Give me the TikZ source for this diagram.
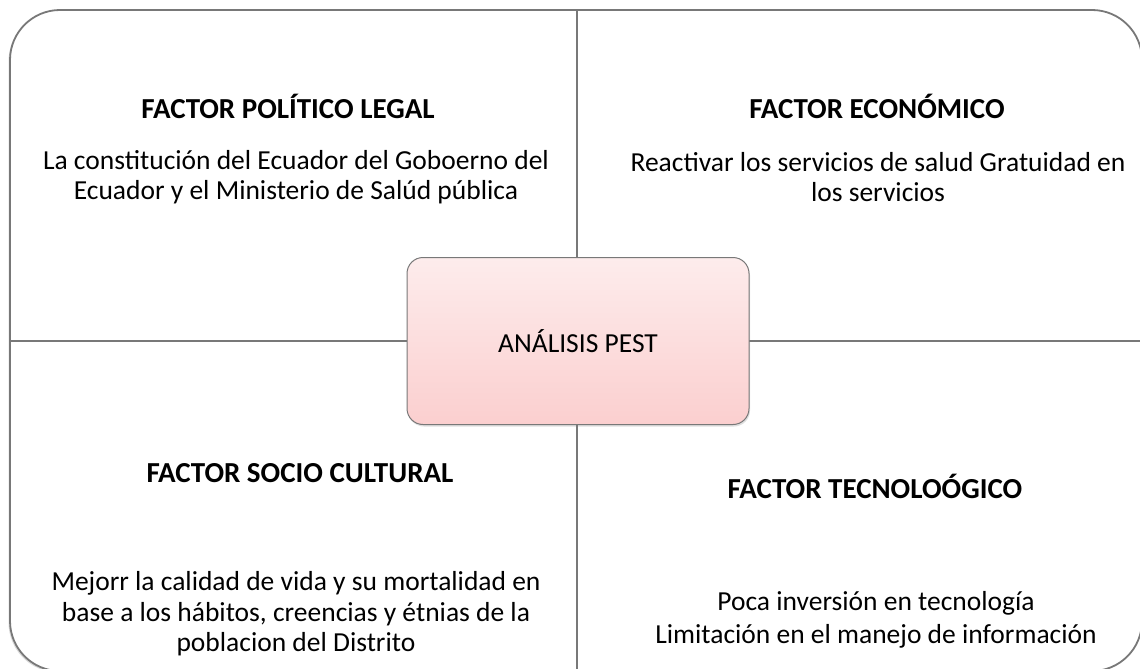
\documentclass[tikz,border=0pt]{standalone}
\usepackage{fontspec}
\setmainfont{Carlito}
\usetikzlibrary{shadows}
\definecolor{pestline}{RGB}{120,120,120}
\definecolor{pesttop}{RGB}{253,236,236}
\definecolor{pestbot}{RGB}{251,207,207}
\begin{document}
\begin{tikzpicture}[x=1pt, y=-1pt]
\tikzstyle{every node}=[font=\fontsize{27.5}{30.5}\selectfont, align=center, inner sep=0pt];
\tikzstyle{title}=[font=\fontsize{29}{31}\selectfont\bfseries];
\useasboundingbox (0,0) rectangle (1140,669);
\clip (0,0) rectangle (1140,669);
% frame and dividers
\coordinate (ntop) at (577,10);
\coordinate (nbot) at (577,671);
\coordinate (wleft) at (10,341);
\coordinate (eright) at (1142,341);
\draw [pestline, fill=white, line width=1.8pt, rounded corners=50pt,
 drop shadow={opacity=0.3, shadow xshift=-1.5pt, shadow yshift=-1.5pt}] (10,10) rectangle (1142,671);
\draw [pestline, line width=1.8pt] (ntop) -- (nbot)
 (wleft) -- (eright);
% centre
\node [draw=pestline, line width=1pt, rounded corners=16pt, top color=pesttop, bottom color=pestbot,
 minimum width=342pt, minimum height=167pt,
 drop shadow={opacity=0.25, shadow xshift=1pt, shadow yshift=-2pt}] (pest) at (578,341) {ANÁLISIS PEST};
% quadrants
\node [title] (poltitle) at (288,106) {FACTOR POLÍTICO LEGAL};
\node (poltext) at (296,177) {La constitución del Ecuador del Goboerno del\\Ecuador y el Ministerio de Salúd pública};
\node [title] (ecotitle) at (877,106) {FACTOR ECONÓMICO};
\node (ecotext) at (878,177) {Reactivar los servicios de salud Gratuidad en\\los servicios};
\node [title] (soctitle) at (300,473) {FACTOR SOCIO CULTURAL};
\node (soctext) at (296,614) {Mejorr la calidad de vida y su mortalidad en\\base a los hábitos, creencias y étnias de la\\poblacion del Distrito};
\node [title] (tectitle) at (875,486) {FACTOR TECNOLOÓGICO};
\node (tectext) at (876,620) {Poca inversión en tecnología\\[2pt]Limitación en el manejo de información};
\end{tikzpicture}
\end{document}
